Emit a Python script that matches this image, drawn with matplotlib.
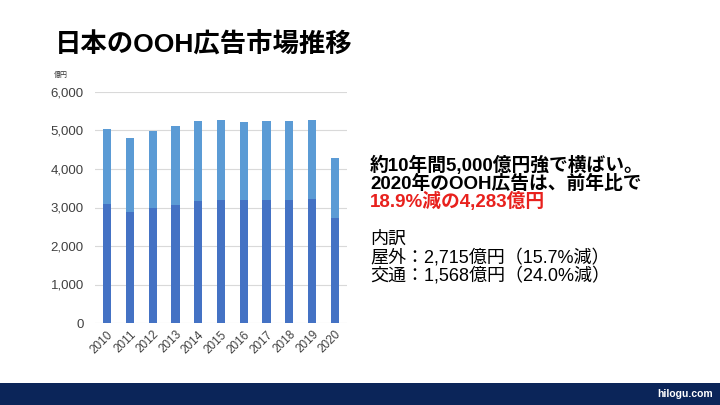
import matplotlib.pyplot as plt
import numpy as np
from matplotlib.ticker import FuncFormatter

plt.rcParams['font.family'] = ['Liberation Sans', 'Noto Sans CJK JP', 'DejaVu Sans']

# OOH ad market (億円): 屋外 (outdoor) + 交通 (transport)
years = ['2010', '2011', '2012', '2013', '2014', '2015', '2016', '2017', '2018', '2019', '2020']
outdoor = [3092, 2884, 2997, 3066, 3169, 3195, 3195, 3195, 3195, 3221, 2715]
transport = [1942, 1917, 1994, 2046, 2073, 2073, 2021, 2047, 2047, 2063, 1568]

dark_blue = '#4472c4'
light_blue = '#5b9bd5'

fig = plt.figure(figsize=(7.2, 4.05), dpi=100)
fig.patch.set_facecolor('white')

# chart area
ax = fig.add_axes([95 / 720, 1 - 323 / 405, 252 / 720, 231 / 405])
x = np.arange(len(years))
ax.bar(x, outdoor, width=0.36, color=dark_blue, zorder=3)
ax.bar(x, transport, width=0.36, bottom=outdoor, color=light_blue, zorder=3)

ax.set_xlim(-0.53, len(years) - 0.47)
ax.set_ylim(0, 6000)
ax.set_yticks(range(0, 6001, 1000))
ax.yaxis.set_major_formatter(FuncFormatter(lambda v, p: f'{int(v):,}'))
ax.grid(axis='y', color='#d9d9d9', linewidth=0.8, zorder=0)
for s in ax.spines.values():
    s.set_visible(False)
ax.tick_params(axis='both', length=0, colors='#404040')
ax.tick_params(axis='y', labelsize=9.5, pad=8)
ax.set_xticks(x)
ax.set_xticklabels(years, rotation=45, ha='right', va='top',
                   rotation_mode='anchor', fontsize=8.5)
ax.tick_params(axis='x', pad=4)

fig.text(54 / 720, 1 - 75 / 405, '億円', fontsize=5, color='#333333', va='center')

# title
fig.text(55 / 720, 1 - 45 / 405, '日本のOOH広告市場推移', fontsize=19,
         fontweight='bold', color='black', va='center')

# commentary on the right
tx = 370 / 720
fig.text(tx, 1 - 165 / 405, '約10年間5,000億円強で横ばい。', fontsize=13.5,
         fontweight='bold', va='center')
fig.text(tx, 1 - 183.5 / 405, '2020年のOOH広告は、前年比で', fontsize=13.5,
         fontweight='bold', va='center')
fig.text(tx, 1 - 201 / 405, '18.9%減の4,283億円', fontsize=13.5,
         fontweight='bold', color='#e8211d', va='center')
fig.text(tx, 1 - 239 / 405, '内訳', fontsize=13, va='center')
fig.text(tx, 1 - 258 / 405, '屋外：2,715億円（15.7%減）', fontsize=13, va='center')
fig.text(tx, 1 - 276 / 405, '交通：1,568億円（24.0%減）', fontsize=13, va='center')

# footer band
band = fig.add_axes([0, 0, 1, 22 / 405])
band.set_facecolor('#0b2559')
band.set_xticks([])
band.set_yticks([])
for s in band.spines.values():
    s.set_visible(False)
fig.text(713 / 720, 11 / 405, 'hilogu.com', fontsize=7.5, fontweight='bold',
         color='white', ha='right', va='center')

fig.savefig('out.png', dpi=100)
